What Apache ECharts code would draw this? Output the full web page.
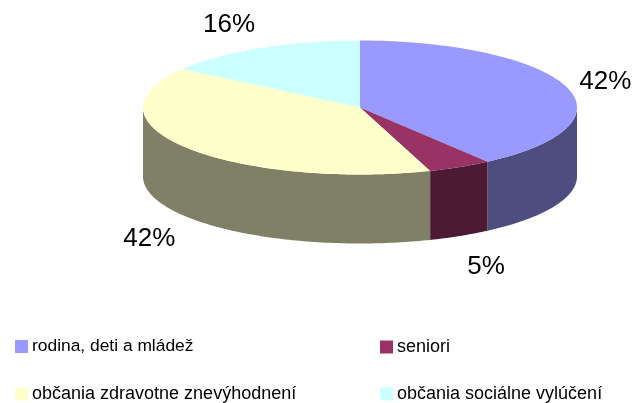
<!DOCTYPE html>
<html>
<head>
<meta charset="utf-8">
<style>
    html, body {margin: 0; padding: 0; background: #fff;}
    #chart {width: 634px; height: 403px;}
</style>
<script src="https://cdn.jsdelivr.net/npm/echarts@6/dist/echarts.min.js"></script>
</head>
<body>
<div id="chart"></div>
<script>
const categories = ["rodina, deti a mládež", "seniori", "občania zdravotne znevýhodnení", "občania sociálne vylúčení"];
const shares = [42, 5, 42, 16];
const topColors = ["#9999FF", "#993366", "#FFFFCC", "#CCFFFF"];
const wallColors = ["#4D4D80", "#4D1A33", "#808066", "#668080"];
const labelOffsets = [[39, -5], [26, 100], [-37, 91], [-31, -23]];
const legendSpots = [[15, 338], [380, 338], [15, 385], [380, 385]];
const legendFontSizes = [17.4, 18, 18, 18];

const font = "Arial, 'Liberation Sans', sans-serif";
const pie = {cx: 360, cy: 107.5, rx: 217, ry: 67, depth: 69};
const total = shares.reduce((sum, value) => sum + value, 0);

// angles are clockwise from 12 o'clock, in degrees
function rim(angle, drop = 0) {
    const rad = angle * Math.PI / 180;
    return [pie.cx + pie.rx * Math.sin(rad), pie.cy - pie.ry * Math.cos(rad) + drop];
}

function arc(from, to, drop = 0) {
    const points = [];
    const steps = Math.max(1, Math.ceil(Math.abs(to - from)));
    for (let i = 0; i <= steps; i++) {
        points.push(rim(from + (to - from) * i / steps, drop));
    }
    return points;
}

function renderSlice(index, start, end) {
    return () => {
        const children = [];
        // only the front half of the rim (90..270) shows a wall
        const wallFrom = Math.max(start, 90);
        const wallTo = Math.min(end, 270);
        if (wallTo > wallFrom) {
            children.push({
                type: "polygon",
                shape: {points: [...arc(wallFrom, wallTo), ...arc(wallTo, wallFrom, pie.depth)]},
                style: {fill: wallColors[index]}
            });
        }
        children.push({
            type: "polygon",
            shape: {points: [[pie.cx, pie.cy], ...arc(start, end)]},
            style: {fill: topColors[index]}
        });
        const mid = rim((start + end) / 2);
        children.push({
            type: "text",
            style: {
                text: `${shares[index]}%`,
                x: mid[0] + labelOffsets[index][0],
                y: mid[1] + labelOffsets[index][1],
                align: "center",
                verticalAlign: "middle",
                fontFamily: font,
                fontSize: 26,
                fill: "#000"
            }
        });
        return {type: "group", children};
    };
}

let running = 0;
const series = categories.map((name, index) => {
    const start = running / total * 360;
    running += shares[index];
    const end = running / total * 360;
    return {
        name,
        type: "custom",
        coordinateSystem: "none",
        silent: true,
        itemStyle: {color: topColors[index]},
        data: [shares[index]],
        renderItem: renderSlice(index, start, end)
    };
});

// one legend per entry, the two columns line up like in the original
const legends = categories.map((name, index) => ({
    left: legendSpots[index][0],
    top: legendSpots[index][1],
    icon: "rect",
    itemWidth: 13,
    itemHeight: 13,
    padding: 0,
    selectedMode: false,
    data: [name],
    textStyle: {fontFamily: font, fontSize: legendFontSizes[index], color: "#000", padding: [0, 0, 0, -1]}
}));

const chart = echarts.init(document.getElementById("chart"));
chart.setOption({
    animation: false,
    backgroundColor: "#fff",
    legend: legends,
    series
});
</script>
</body>
</html>
